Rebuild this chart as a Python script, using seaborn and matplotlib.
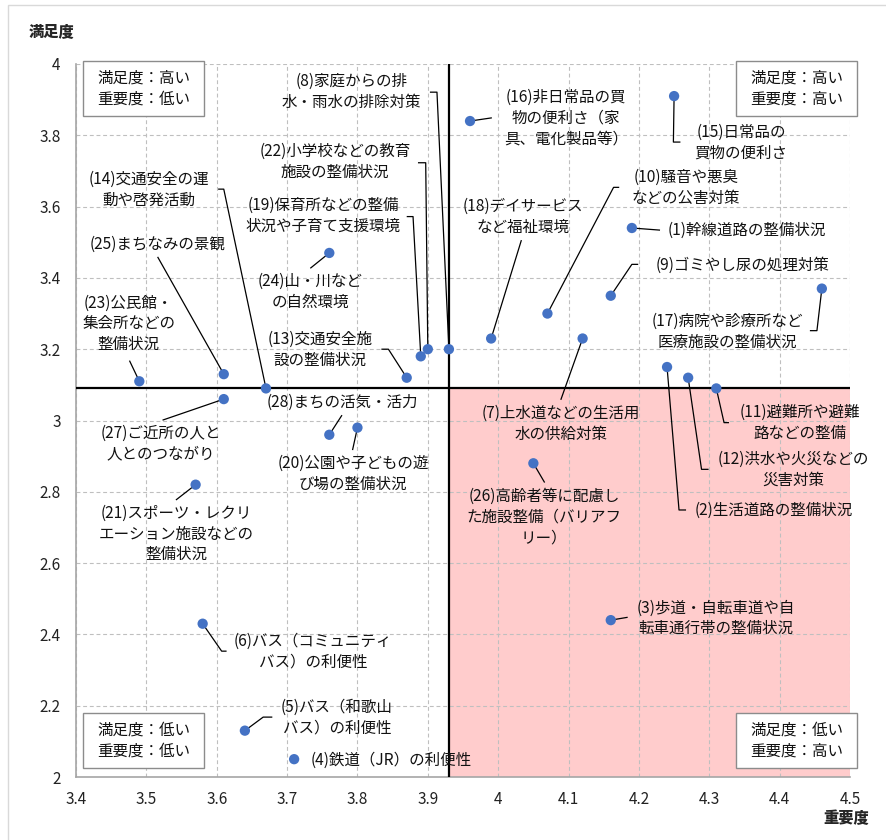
import matplotlib
matplotlib.use("Agg")
import matplotlib.pyplot as plt
import matplotlib.patches as mpatches
import pandas as pd
import seaborn as sns

# ---- data -------------------------------------------------------------
item_no = list(range(1, 29))
item_labels = [
    "(1)幹線道路の整備状況",
    "(2)生活道路の整備状況",
    "(3)歩道・自転車道や自\n転車通行帯の整備状況",
    "(4)鉄道（JR）の利便性",
    "(5)バス（和歌山\nバス）の利便性",
    "(6)バス（コミュニティ\nバス）の利便性",
    "(7)上水道などの生活用\n水の供給対策",
    "(8)家庭からの排\n水・雨水の排除対策",
    "(9)ゴミやし尿の処理対策",
    "(10)騒音や悪臭\nなどの公害対策",
    "(11)避難所や避難\n路などの整備",
    "(12)洪水や火災などの\n災害対策",
    "(13)交通安全施\n設の整備状況",
    "(14)交通安全の運\n動や啓発活動",
    "(15)日常品の\n買物の便利さ",
    "(16)非日常品の買\n物の便利さ（家\n具、電化製品等）",
    "(17)病院や診療所など\n医療施設の整備状況",
    "(18)デイサービス\nなど福祉環境",
    "(19)保育所などの整備\n状況や子育て支援環境",
    "(20)公園や子どもの遊\nび場の整備状況",
    "(21)スポーツ・レクリ\nエーション施設などの\n整備状況",
    "(22)小学校などの教育\n施設の整備状況",
    "(23)公民館・\n集会所などの\n整備状況",
    "(24)山・川など\nの自然環境",
    "(25)まちなみの景観",
    "(26)高齢者等に配慮し\nた施設整備（バリアフ\nリー）",
    "(27)ご近所の人と\n人とのつながり",
    "(28)まちの活気・活力",
]
importance = [4.19, 4.24, 4.16, 3.71, 3.64, 3.58, 4.12, 3.93, 4.16, 4.07,
              4.31, 4.27, 3.87, 3.67, 4.25, 3.96, 4.46, 3.99, 3.89, 3.80,
              3.57, 3.90, 3.49, 3.76, 3.61, 4.05, 3.61, 3.76]
satisfaction = [3.54, 3.15, 2.44, 2.05, 2.13, 2.43, 3.23, 3.20, 3.35, 3.30,
                3.09, 3.12, 3.12, 3.09, 3.91, 3.84, 3.37, 3.23, 3.18, 2.98,
                2.82, 3.20, 3.11, 3.47, 3.13, 2.88, 3.06, 2.96]

avg_importance = 3.93
avg_satisfaction = 3.09

x_ticks = [3.4, 3.5, 3.6, 3.7, 3.8, 3.9, 4.0, 4.1, 4.2, 4.3, 4.4, 4.5]
x_tick_labels = ["3.4", "3.5", "3.6", "3.7", "3.8", "3.9", "4", "4.1", "4.2", "4.3", "4.4", "4.5"]
y_ticks = [2.0, 2.2, 2.4, 2.6, 2.8, 3.0, 3.2, 3.4, 3.6, 3.8, 4.0]
y_tick_labels = ["2", "2.2", "2.4", "2.6", "2.8", "3", "3.2", "3.4", "3.6", "3.8", "4"]

quadrant_texts = ["満足度：高い\n重要度：低い", "満足度：高い\n重要度：高い",
                  "満足度：低い\n重要度：低い", "満足度：低い\n重要度：高い"]

# ---- label layout (label centre, leader-line bends) -------------------
label_pos = {
    1: (4.354, 3.534), 2: (4.391, 2.749), 3: (4.310, 2.445), 4: (3.848, 2.048),
    5: (3.771, 2.166), 6: (3.737, 2.351), 7: (4.089, 2.990), 8: (3.792, 3.922),
    9: (4.348, 3.436), 10: (4.267, 3.652), 11: (4.429, 2.993), 12: (4.419, 2.863),
    13: (3.747, 3.198), 14: (3.503, 3.647), 15: (4.345, 3.778), 16: (4.096, 3.849),
    17: (4.326, 3.249), 18: (4.035, 3.572), 19: (3.751, 3.574), 20: (3.794, 2.850),
    21: (3.542, 2.682), 22: (3.768, 3.725), 23: (3.475, 3.271), 24: (3.733, 3.360),
    25: (3.516, 3.494), 26: (4.065, 2.730), 27: (3.521, 2.936), 28: (3.778, 3.051),
}
leader_path = {
    1: [(4.230, 3.534)],
    2: [(4.257, 2.749), (4.267, 2.749)],
    3: [(4.184, 2.448)],
    4: [],
    5: [(3.666, 2.168), (3.679, 2.168)],
    6: [(3.607, 2.353), (3.614, 2.353)],
    7: [(4.089, 3.058)],
    8: [(3.913, 3.921), (3.903, 3.921)],
    9: [(4.190, 3.438), (4.199, 3.438)],
    10: [(4.164, 3.654), (4.172, 3.654)],
    11: [(4.321, 2.994), (4.328, 2.994)],
    12: [(4.289, 2.863), (4.299, 2.863)],
    13: [(3.844, 3.200), (3.834, 3.200)],
    14: [(3.610, 3.649), (3.602, 3.649)],
    15: [(4.249, 3.781), (4.259, 3.781)],
    16: [(3.991, 3.849)],
    17: [(4.453, 3.252), (4.443, 3.252)],
    18: [(4.033, 3.506)],
    19: [(3.879, 3.572), (3.870, 3.572)],
    20: [(3.793, 2.917)],
    21: [(3.542, 2.777)],
    22: [(3.897, 3.723), (3.886, 3.723)],
    23: [(3.476, 3.168)],
    24: [(3.733, 3.427)],
    25: [(3.516, 3.459)],
    26: [(4.066, 2.826)],
    27: [(3.523, 3.001)],
    28: [(3.778, 3.015)],
}
quadrant_boxes = [(3.410, 3.855), (4.338, 3.855), (3.410, 2.026), (4.338, 2.026)]

# ---- figure -------------------------------------------------------------
sns.set_style("white")
plt.rcParams["font.family"] = ["Noto Sans CJK JP", "DejaVu Sans"]

W, H = 886, 840
fig = plt.figure(figsize=(W / 100, H / 100), dpi=100)
ax = fig.add_axes([76 / W, 1 - 777 / H, (850 - 76) / W, (777 - 64) / H])

# outer chart frame
fig.patches.append(mpatches.Rectangle((8 / W, -0.05), 1.1, 0.05 + 1 - 5 / H,
                                      transform=fig.transFigure, fill=False,
                                      edgecolor="#d9d9d9", linewidth=1.0))

# high-importance / low-satisfaction quadrant
ax.add_patch(mpatches.Rectangle((avg_importance, 2.0), 4.5 - avg_importance,
                                avg_satisfaction - 2.0, facecolor="#ffcccc",
                                edgecolor="none", zorder=0))

ax.set_xlim(3.4, 4.5)
ax.set_ylim(2.0, 4.0)
ax.set_xticks(x_ticks)
ax.set_xticklabels(x_tick_labels)
ax.set_yticks(y_ticks)
ax.set_yticklabels(y_tick_labels)
ax.grid(True, linestyle=(0, (3.5, 2.5)), color="#bfbfbf", linewidth=0.8, zorder=1)
ax.set_axisbelow(True)
for side in ("top", "right"):
    ax.spines[side].set_visible(False)
for side in ("left", "bottom"):
    ax.spines[side].set_color("#a6a6a6")
    ax.spines[side].set_linewidth(1.2)
ax.tick_params(axis="both", which="both", colors="#a6a6a6", labelcolor="#222222",
               labelsize=11, length=5, width=1)
ax.tick_params(axis="x", direction="inout", length=8, pad=6)
ax.tick_params(axis="y", direction="out", pad=6)

# average lines
ax.axvline(avg_importance, color="black", linewidth=1.6, zorder=3)
ax.axhline(avg_satisfaction, color="black", linewidth=1.6, zorder=3)

df = pd.DataFrame({"no": item_no, "重要度": importance, "満足度": satisfaction,
                   "label": item_labels})

# leader lines and item labels
for no, x, y, lab in zip(df["no"], df["重要度"], df["満足度"], df["label"]):
    path = leader_path[no]
    if path:
        xs = [x] + [p[0] for p in path]
        ys = [y] + [p[1] for p in path]
        ax.plot(xs, ys, color="black", linewidth=0.9, zorder=4,
                solid_capstyle="butt")
    lx, ly = label_pos[no]
    ax.text(lx, ly, lab, ha="center", va="center", fontsize=11.2,
            linespacing=1.3, color="#111111", zorder=6)

sns.scatterplot(data=df, x="重要度", y="満足度", ax=ax, color="#4472c4",
                s=55, edgecolor="none", zorder=7, legend=False)
ax.set_xlabel("")
ax.set_ylabel("")

# quadrant captions
for (bx, by), txt in zip(quadrant_boxes, quadrant_texts):
    ax.add_patch(mpatches.Rectangle((bx, by), 0.172, 0.154, facecolor="white",
                                    edgecolor="#8c8c8c", linewidth=1.0,
                                    zorder=8, clip_on=False))
    ax.text(bx + 0.086, by + 0.077, txt, ha="center", va="center",
            fontsize=11.2, linespacing=1.3, color="#111111", zorder=9)

# axis titles
fig.text(52 / W, 1 - 32 / H, "満足度", ha="center", va="center",
         fontsize=11, fontweight="heavy")
fig.text(846 / W, 1 - 818 / H, "重要度", ha="center", va="center",
         fontsize=11, fontweight="heavy")

fig.savefig("out.png", dpi=100)
